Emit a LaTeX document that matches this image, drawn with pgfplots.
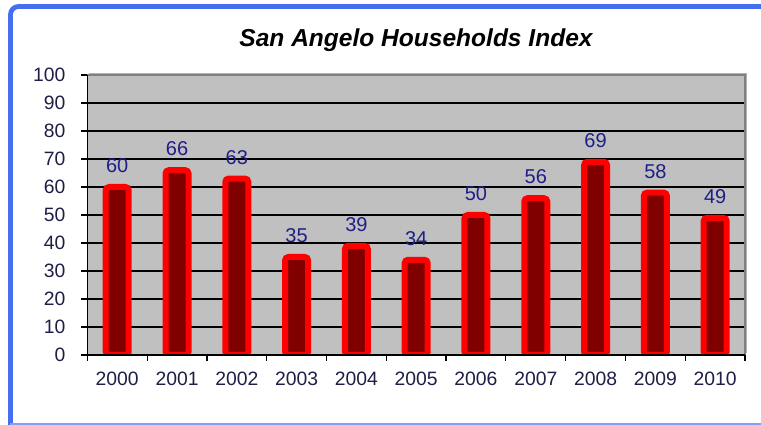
\documentclass[border=0pt]{standalone}
\usepackage{fontspec}
\setmainfont{Liberation Sans}
\usepackage{pgfplots}
\pgfplotsset{compat=1.18}
\definecolor{framebl}{RGB}{70,110,240}
\definecolor{framebl2}{RGB}{130,160,250}
\definecolor{plotgray}{RGB}{192,192,192}
\definecolor{barfill}{RGB}{128,0,0}
\definecolor{labblue}{RGB}{30,30,135}
\definecolor{ticknavy}{RGB}{30,30,70}
\begin{document}
\begin{tikzpicture}
\useasboundingbox (0,0) rectangle (570.75pt,318.75pt);
\begin{scope}[x=0.75pt,y=-0.75pt,shift={(0pt,318.75pt)}]
 \draw[framebl, line width=3.6pt, rounded corners=6pt] (10.5,440) -- (10.5,6.5) -- (780,6.5);
 \draw[framebl2, line width=1.2pt] (10,423.8) -- (780,423.8);
 \node[anchor=base, inner sep=0pt, font=\fontsize{18.4}{22}\selectfont\bfseries\itshape] at (416,47) {San Angelo Households Index};
\end{scope}
\begin{axis}[name=ax, at={(65.5pt,52.5pt)}, anchor=south west, scale only axis,
  width=493.3pt, height=210pt,
  xmin=-0.5, xmax=10.5, ymin=0, ymax=100,
  ytick={0,10,...,100},
  xtick={-0.5,0.5,...,10.5}, xticklabels={},
  extra x ticks={0,1,2,3,4,5,6,7,8,9,10},
  extra x tick labels={2000,2001,2002,2003,2004,2005,2006,2007,2008,2009,2010},
  extra x tick style={major tick length=0pt, grid=none},
  tick align=outside, tick pos=left,
  major tick length=4.5pt,
  tick style={black, line width=0.9pt},
  ymajorgrids, major grid style={black, line width=1pt},
  axis line style={draw=none},
  axis background/.style={fill=plotgray},
  /pgf/number format/assume math mode=true,
  ticklabel style={ticknavy, font=\fontsize{14.5}{17}\selectfont},
  xticklabel style={yshift=-9.5pt},
  yticklabel style={xshift=-8.5pt},
]
\addplot[ybar, bar width=17.25pt, fill=barfill, draw=red, line width=4.5pt, rounded corners=2.5pt,
  nodes near coords,
  nodes near coords style={labblue, font=\fontsize{15}{18}\selectfont, yshift=5pt}]
  coordinates {(0,60) (1,66) (2,63) (3,35) (4,39) (5,34) (6,50) (7,56) (8,69) (9,58) (10,49)};
\end{axis}
\draw[gray!60, line width=1.2pt] ([xshift=1.2pt,yshift=1.2pt]ax.north west) -- ([xshift=1.2pt,yshift=1.2pt]ax.north east) -- ([xshift=1.2pt,yshift=1.2pt]ax.south east);
\draw[gray, line width=1pt] (ax.north west) -- (ax.north east) -- (ax.south east);
\draw[black, line width=1.1pt] (ax.north west) -- (ax.south west) -- (ax.south east);
\end{tikzpicture}
\end{document}
